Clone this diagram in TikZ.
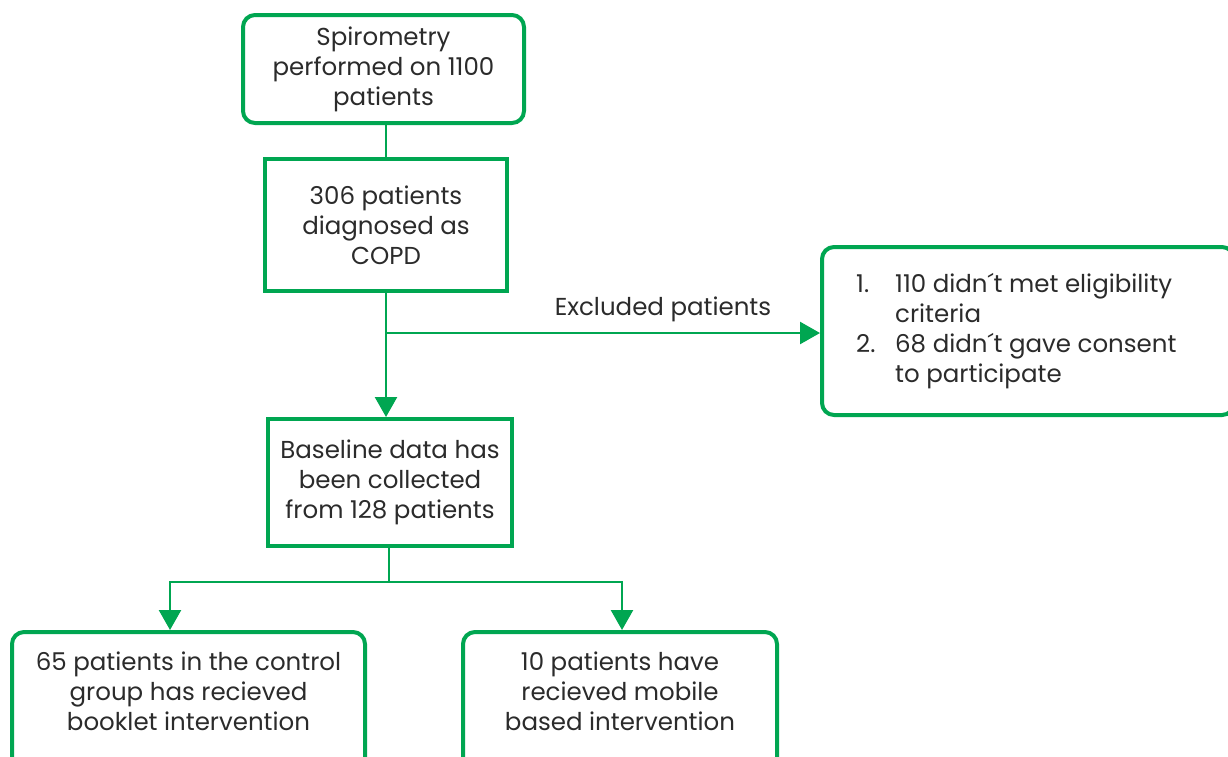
\documentclass[tikz,border=0pt]{standalone}
\usepackage{fontspec}
\setmainfont{Poppins}
\usetikzlibrary{arrows.meta}
\definecolor{grn}{HTML}{00A651}
\definecolor{txt}{HTML}{2B2B2B}
\begin{document}
\begin{tikzpicture}[x=1pt,y=-1pt,
  box/.style={draw=grn, line width=4pt, text=txt, align=center, inner sep=0pt,
    font=\fontsize{24.5}{30}\selectfont},
  rbox/.style={box, rounded corners=12pt},
  lbl/.style={text=txt, inner sep=0pt, font=\fontsize{24.5}{30}\selectfont},
  conn/.style={draw=grn, line width=2.5pt},
  arr/.style={conn, -{Triangle[length=20pt,width=22pt]}}]
\clip (0,0) rectangle (1228,756);
\fill[white] (0,0) rectangle (1228,756);
\node[rbox, minimum width=281pt, minimum height=108pt] (top) at (383.5,69)
  {Spirometry\\performed on 1100\\patients};
\node[box, minimum width=242pt, minimum height=132pt] (diag) at (386,225)
  {306 patients\\diagnosed as\\COPD};
\node[box, minimum width=244pt, minimum height=127pt] (base) at (390,482.5)
  {Baseline data has\\been collected\\from 128 patients};
\node[rbox, minimum width=412pt, minimum height=168pt] (excl) at (1028,331) {};
\node[lbl, anchor=north west, align=left] (excltxt) at (856,271)
  {\begin{tabular}{@{}l@{}l@{}}\makebox[39pt][l]{1.} & 110 didn´t met eligibility\\
   & criteria\\
   2. & 68 didn´t gave consent\\
   & to participate\end{tabular}};
\node[rbox, minimum width=353pt, minimum height=160pt] (ctrl) at (188.5,712) {};
\node[lbl, align=center] (ctrltxt) at (188.5,691)
  {65 patients in the control\\group has recieved\\booklet intervention};
\node[rbox, minimum width=314pt, minimum height=160pt] (mob) at (620,712) {};
\node[lbl, align=center] (mobtxt) at (620,691)
  {10 patients have\\recieved mobile\\based intervention};
\coordinate (br) at (386,333);
\coordinate (split) at (389,582);
\coordinate (c4) at (170,582);
\coordinate (c5) at (622,582);
\draw[conn] (diag.north |- top.south) -- (diag.north);
\draw[arr] (diag.south) -- (diag.south |- base.north);
\draw[arr] (br) -- (br -| excl.west);
\node[lbl] (exlbl) at (663,309) {Excluded patients};
\draw[conn] (base.south -| split) -- (split);
\draw[arr] (split) -- (c4) -- (c4 |- ctrl.north);
\draw[arr] (split) -- (c5) -- (c5 |- mob.north);
\end{tikzpicture}
\end{document}
